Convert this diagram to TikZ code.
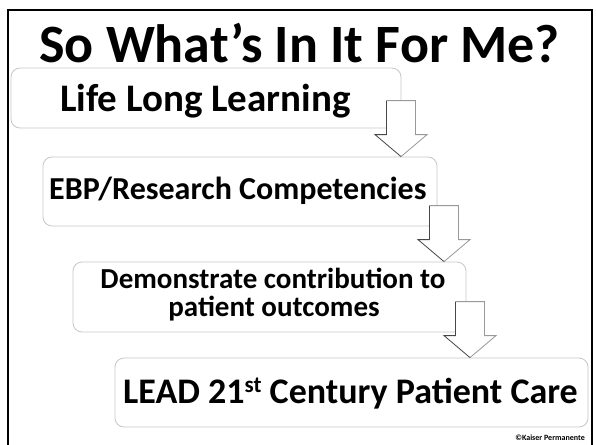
\documentclass[tikz,border=0pt]{standalone}
\usepackage{fontspec}
\setmainfont{Carlito}
\begin{document}
\begin{tikzpicture}[x=1pt,y=-1pt,
  frame/.style={draw=black,line width=2.4pt},
  stepbox/.style={draw=black!22,line width=0.8pt,rounded corners=9pt,inner sep=0pt,fill=white},
  txt/.style={inner sep=0pt,font=\bfseries},
  arrowfill/.style={fill=white},
  arrowdark/.style={draw=black!72,line width=0.8pt,line join=miter},
  arrowlight/.style={draw=black!40,line width=0.8pt,line join=miter}]
\useasboundingbox (0,0) rectangle (596,444);
\fill[white] (0,0) rectangle (596,444);
\draw[frame] (8,10) rectangle (592,452);
% title
\node[txt,anchor=base,font=\bfseries\fontsize{54}{56}\selectfont] (title) at (299.5,63) {So What’s In It For Me?};
% boxes
\node[stepbox,minimum width=390pt,minimum height=60pt] (b1) at (206,98) {};
\node[stepbox,minimum width=394pt,minimum height=69pt] (b2) at (240,191.5) {};
\node[stepbox,minimum width=393pt,minimum height=70pt] (b3) at (269.5,297) {};
\node[stepbox,minimum width=473pt,minimum height=69pt] (b4) at (351.5,392.5) {};
% texts
\node[txt,anchor=base west,font=\bfseries\fontsize{39}{41}\selectfont] (t1) at (60,111) {Life Long Learning};
\node[txt,anchor=base west,font=\bfseries\fontsize{32}{34}\selectfont] (t2) at (49,199) {EBP/Research Competencies};
\node[txt,anchor=base,font=\bfseries\fontsize{29}{31}\selectfont] (t3a) at (273,288) {Demonstrate contribution to};
\node[txt,anchor=base,font=\bfseries\fontsize{29}{31}\selectfont] (t3b) at (274,316) {patient outcomes};
\node[txt,anchor=base west,font=\bfseries\fontsize{36}{38}\selectfont] (t4) at (123,403) {LEAD 21\raisebox{0.28em}{\bfseries\fontsize{23}{24}\selectfont st} Century Patient Care};
\node[txt,anchor=base east,font=\bfseries\fontsize{8}{9}\selectfont] (copy) at (585,440) {©Kaiser Permanente};
% arrows: tip on the top edge of the next box
\coordinate (a1) at (b2.north -| 401,0);
\coordinate (a2) at (b3.north -| 444,0);
\coordinate (a3) at (b4.north -| 470,0);
\foreach \a in {a1,a2,a3}{
  \fill[arrowfill] (\a) -- ++(-26,-22) -- ++(11.5,0) -- ++(0,-34) -- ++(29,0) -- ++(0,34) -- ++(11.5,0) -- cycle;
  \draw[arrowlight] (\a) ++(-14.5,-56) -- ++(29,0) -- ++(0,34) -- ++(11.5,0) -- (\a);
  \draw[arrowdark] (\a) -- ++(-26,-22) -- ++(11.5,0) -- ++(0,-34);
}
\end{tikzpicture}
\end{document}
